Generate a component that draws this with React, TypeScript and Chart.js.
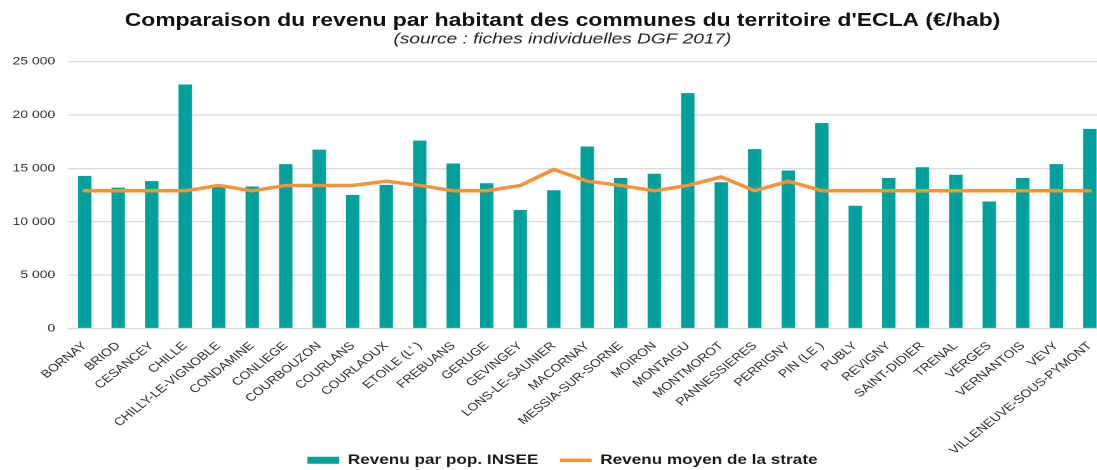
import React, { useEffect, useRef } from 'react';
import { Chart, registerables } from 'chart.js';

Chart.register(...registerables);

const communes = [
  'BORNAY', 'BRIOD', 'CESANCEY', 'CHILLE', 'CHILLY-LE-VIGNOBLE', 'CONDAMINE', 'CONLIEGE',
  'COURBOUZON', 'COURLANS', 'COURLAOUX', "ETOILE (L' )", 'FREBUANS', 'GERUGE', 'GEVINGEY',
  'LONS-LE-SAUNIER', 'MACORNAY', 'MESSIA-SUR-SORNE', 'MOIRON', 'MONTAIGU', 'MONTMOROT',
  'PANNESSIERES', 'PERRIGNY', 'PIN (LE )', 'PUBLY', 'REVIGNY', 'SAINT-DIDIER', 'TRENAL',
  'VERGES', 'VERNANTOIS', 'VEVY', 'VILLENEUVE-SOUS-PYMONT',
];

const revenuInsee = [
  14300, 13200, 13800, 22850, 13300, 13300, 15400,
  16750, 12500, 13450, 17600, 15450, 13600, 11100,
  12950, 17050, 14100, 14500, 22050, 13700,
  16800, 14800, 19250, 11500, 14100, 15100, 14400,
  11900, 14100, 15400, 18700,
];

const revenuStrate = [
  12900, 12900, 12900, 12900, 13400, 12900, 13400,
  13400, 13400, 13800, 13400, 12900, 12900, 13400,
  14900, 13800, 13400, 12900, 13400, 14200,
  12900, 13800, 12900, 12900, 12900, 12900, 12900,
  12900, 12900, 12900, 12900,
];

const yTickLabels = ['0', '5 000', '10 000', '15 000', '20 000', '25 000'];

const FONT = 'Liberation Sans, Arial, sans-serif';
const STRETCH = 1.27;
const W = 887;
const H = 477;

// let tick labels overflow their scale box (no clipping)
const noLabelClip = (s: any) => {
  s._computeLabelArea = () => undefined;
};

export default function App() {
  const ref = useRef<HTMLCanvasElement>(null);

  useEffect(() => {
    const canvas = ref.current;
    if (!canvas) return;
    const chart = new Chart(canvas, {
      type: 'bar',
      data: {
        labels: communes,
        datasets: [
          {
            type: 'bar',
            label: 'Revenu par pop. INSEE',
            data: revenuInsee,
            backgroundColor: '#00a19d',
            borderWidth: 0,
            barPercentage: 0.4,
            categoryPercentage: 1,
            pointStyle: 'rect',
            order: 1,
          },
          {
            type: 'line',
            label: 'Revenu moyen de la strate',
            data: revenuStrate,
            borderColor: '#f7923a',
            backgroundColor: '#f7923a',
            borderWidth: 3.5,
            pointRadius: 0,
            pointHoverRadius: 0,
            tension: 0,
            borderCapStyle: 'round',
            borderJoinStyle: 'round',
            pointStyle: 'line',
            order: 0,
          },
        ],
      },
      options: {
        responsive: false,
        animation: false,
        devicePixelRatio: 2,
        layout: { padding: { left: 14.5, right: 15.7, top: 0, bottom: 0 } },
        plugins: {
          title: {
            display: true,
            text: "Comparaison du revenu par habitant des communes du territoire d'ECLA (€/hab)",
            font: { family: FONT, size: 18, weight: 'bold', lineHeight: 1.2 },
            color: '#111111',
            padding: { top: 10, bottom: 0 },
          },
          subtitle: {
            display: true,
            text: '(source : fiches individuelles DGF 2017)',
            font: { family: FONT, size: 15, style: 'italic', lineHeight: 1 },
            color: '#222222',
            padding: { top: 0, bottom: 15 },
          },
          legend: {
            position: 'bottom',
            labels: {
              usePointStyle: true,
              pointStyleWidth: 25,
              boxHeight: 7,
              padding: 17,
              color: '#1a1a1a',
              font: { family: FONT, size: 13.5, weight: 'bold' },
              sort: (a: any, b: any) => a.datasetIndex - b.datasetIndex,
            },
          },
          tooltip: { enabled: false },
        },
        scales: {
          x: {
            grid: { display: false },
            border: { display: false },
            ticks: {
              autoSkip: false,
              minRotation: 45,
              maxRotation: 45,
              padding: 3,
              color: '#2e2e2e',
              font: { family: FONT, size: 11 },
            },
            afterFit: (s: any) => {
              s.height = 108;
              noLabelClip(s);
            },
          },
          y: {
            min: 0,
            max: 25000,
            ticks: {
              stepSize: 5000,
              padding: 10,
              color: '#2e2e2e',
              font: { family: FONT, size: 11 },
              callback: (_v: any, i: number) => yTickLabels[i],
            },
            grid: { color: '#d9d9d9', lineWidth: 1.2, drawTicks: false },
            border: { display: false },
            afterFit: (s: any) => {
              s.width = 39;
              noLabelClip(s);
            },
          },
        },
      },
    } as any);
    return () => chart.destroy();
  }, []);

  return (
    <div
      style={{
        position: 'fixed',
        left: 0,
        top: 0,
        width: 1097,
        height: 470,
        overflow: 'hidden',
        background: '#ffffff',
      }}
    >
      <div style={{ transform: `scaleX(${STRETCH})`, transformOrigin: '0 0', width: W, height: H }}>
        <canvas ref={ref} width={W} height={H} style={{ width: W, height: H, display: 'block' }} />
      </div>
    </div>
  );
}
